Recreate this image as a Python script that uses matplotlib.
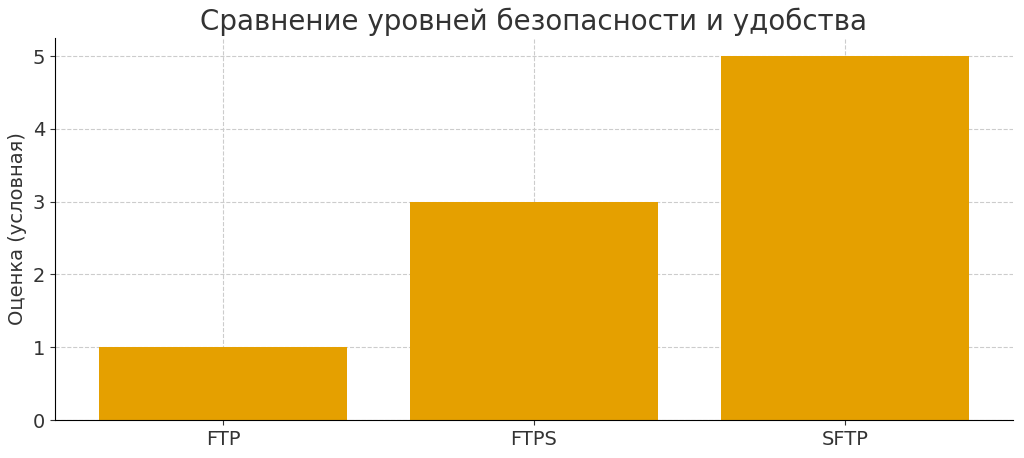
import matplotlib
matplotlib.use("Agg")
import matplotlib.pyplot as plt

categories = ["FTP", "FTPS", "SFTP"]
values = [1, 3, 5]

fig = plt.figure(figsize=(10.24, 4.58), dpi=100)
ax = fig.add_axes([55/1024, 1-420/458, (1013-55)/1024, (420-38)/458])
ax.bar(categories, values, color="#E5A000", width=0.8, zorder=2)
ax.set_title("Сравнение уровней безопасности и удобства", fontsize=20, color="#333333", pad=6)
ax.set_ylabel("Оценка (условная)", fontsize=14, color="#333333")
ax.tick_params(labelsize=14, colors="#333333")
ax.grid(True, linestyle="--", color="#cccccc", linewidth=0.8, zorder=0)
ax.spines["top"].set_visible(False)
ax.spines["right"].set_visible(False)
fig.savefig("out.png", dpi=100)
